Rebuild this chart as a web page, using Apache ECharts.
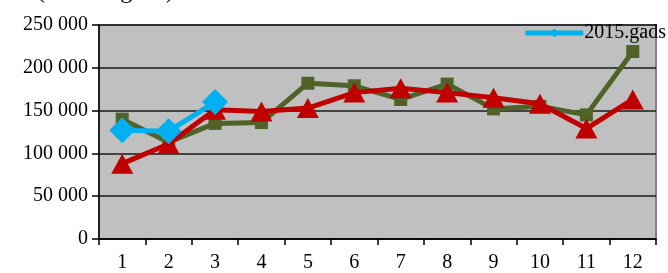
<!DOCTYPE html>
<html>
<head>
<meta charset="utf-8">
<script src="https://cdn.jsdelivr.net/npm/echarts@6/dist/echarts.min.js"></script>
<style>
html, body { margin: 0; padding: 0; background: #fff; }
#chart { width: 668px; height: 273px; }
</style>
</head>
<body>
<div id="chart"></div>
<script>
// menesi un vertibas
var months = ['1', '2', '3', '4', '5', '6', '7', '8', '9', '10', '11', '12'];
var greenVals = [140000, 113000, 135000, 136000, 182000, 179000, 163000, 181000, 152000, 155000, 145000, 219000];
var redVals = [88000, 111000, 151000, 149000, 153000, 171000, 176000, 171000, 165000, 158000, 129000, 163000];
var blueVals = [127000, 126000, 160000];
var yTicks = { min: 0, max: 250000, step: 50000 };

var serif = 'Liberation Serif';

var myChart = echarts.init(document.getElementById('chart'));

var option = {
    animation: false,
    graphic: [
        {
            // virsraksts, nogriezts attela augsa
            type: 'text',
            left: 37,
            top: -20,
            style: { text: '(summa gadā)', font: '24px "Liberation Serif"', fill: '#000' }
        }
    ],
    legend: {
        data: ['2015.gads'],
        right: 2,
        top: 23,
        padding: 0,
        itemWidth: 58,
        itemHeight: 11,
        lineStyle: { width: 5 },
        textStyle: { fontFamily: serif, fontSize: 20, color: '#000', padding: [0, 0, 0, -4] }
    },
    grid: {
        left: 99,
        right: 12,
        top: 25,
        bottom: 32,
        show: true,
        backgroundColor: '#c0c0c0',
        borderColor: '#808080',
        borderWidth: 2
    },
    xAxis: {
        type: 'category',
        data: months,
        boundaryGap: true,
        axisLine: { lineStyle: { color: '#000', width: 1.5 } },
        axisTick: { show: true, interval: 0, length: 6, lineStyle: { color: '#000', width: 1.5 } },
        axisLabel: { fontFamily: serif, fontSize: 20, color: '#000', margin: 14 },
        splitLine: { show: false }
    },
    yAxis: {
        type: 'value',
        min: yTicks.min,
        max: yTicks.max,
        interval: yTicks.step,
        axisLine: { show: true, lineStyle: { color: '#000', width: 1.5 } },
        axisTick: { show: true, length: 7, lineStyle: { color: '#000', width: 1.5 } },
        axisLabel: {
            fontFamily: serif, fontSize: 20, color: '#000', margin: 11,
            formatter: function (v) {
                return String(v).replace(/\B(?=(\d{3})+(?!\d))/g, ' ');
            }
        },
        splitLine: { lineStyle: { color: '#1a1a1a', width: 1.5 } }
    },
    series: [
        {
            name: '2013.gads',
            type: 'line',
            data: greenVals,
            symbol: 'rect',
            symbolSize: 13,
            z: 2,
            lineStyle: { color: '#4f6228', width: 5 },
            itemStyle: { color: '#4f6228' }
        },
        {
            name: '2014.gads',
            type: 'line',
            data: redVals,
            symbol: 'triangle',
            symbolSize: [22, 20],
            z: 3,
            lineStyle: { color: '#c00000', width: 5 },
            itemStyle: { color: '#c00000' }
        },
        {
            name: '2015.gads',
            type: 'line',
            data: blueVals,
            symbol: 'diamond',
            symbolSize: 26,
            z: 4,
            lineStyle: { color: '#00b0f0', width: 5 },
            itemStyle: { color: '#00b0f0' }
        }
    ]
};

myChart.setOption(option);
</script>
</body>
</html>
